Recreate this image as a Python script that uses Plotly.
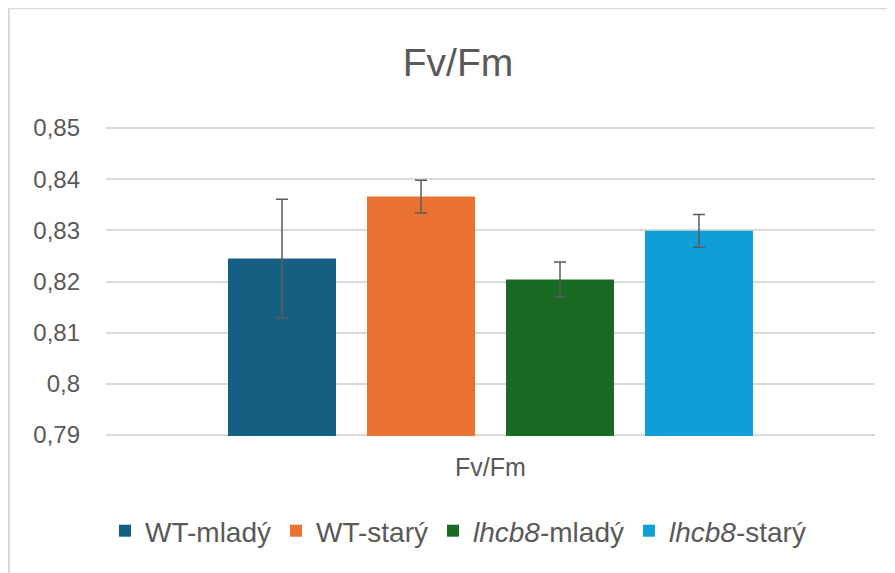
import plotly.graph_objects as go

category = ["Fv/Fm"]
series_names = ["WT-mladý", "WT-starý", "<i>lhcb8</i>-mladý", "<i>lhcb8</i>-starý"]
series_values = [0.8245, 0.8366, 0.8204, 0.8299]
series_errors = [0.0116, 0.0032, 0.0034, 0.0032]
series_colors = ["#156082", "#E97132", "#196B24", "#0F9ED5"]

y_tick_values = [0.79, 0.80, 0.81, 0.82, 0.83, 0.84, 0.85]
y_tick_labels = ["0,79", "0,8", "0,81", "0,82", "0,83", "0,84", "0,85"]

GREY = "#595959"
FONT = "Liberation Sans, Arial, sans-serif"

fig = go.Figure()
for name, val, err, col in zip(series_names, series_values, series_errors, series_colors):
    fig.add_trace(go.Bar(
        x=category, y=[val], name=name,
        marker=dict(color=col, line=dict(width=0)),
        error_y=dict(type="data", array=[err], visible=True,
                     color="#5b5b5b", thickness=1.5, width=6),
    ))

fig.update_layout(
    width=895, height=573,
    margin=dict(l=98, r=28, t=119, b=145, autoexpand=False),
    paper_bgcolor="white", plot_bgcolor="white",
    barmode="group", bargap=0.277, bargroupgap=0.223,
    font=dict(family=FONT, color=GREY),
    title=dict(text="Fv/Fm", x=450/895, xref="container", xanchor="center",
               y=1-54/573, yref="container", yanchor="middle",
               font=dict(size=39, color=GREY, family=FONT)),
    showlegend=True,
    legend=dict(orientation="h", x=450/895, xref="container", xanchor="center",
                y=1-523/573, yref="container", yanchor="middle",
                font=dict(size=28, color=GREY, family=FONT),
                bgcolor="rgba(0,0,0,0)"),
    xaxis=dict(showgrid=False, showline=False, zeroline=False,
               tickfont=dict(size=25, color=GREY), ticklabelstandoff=14),
    yaxis=dict(range=[0.7898, 0.8502], tickvals=y_tick_values, ticktext=y_tick_labels,
               showgrid=True, gridcolor="#d9d9d9", gridwidth=1.5,
               zeroline=False, showline=False,
               tickfont=dict(size=24, color=GREY), ticklabelstandoff=25),
    shapes=[dict(type="rect", xref="paper", yref="paper",
                 x0=(9-106)/769, x1=1.1, y0=-0.7, y1=1+(128-10)/307,
                 line=dict(color="#d9d9d9", width=2), fillcolor="rgba(0,0,0,0)",
                 layer="below")],
)

fig.write_html("out.html")
